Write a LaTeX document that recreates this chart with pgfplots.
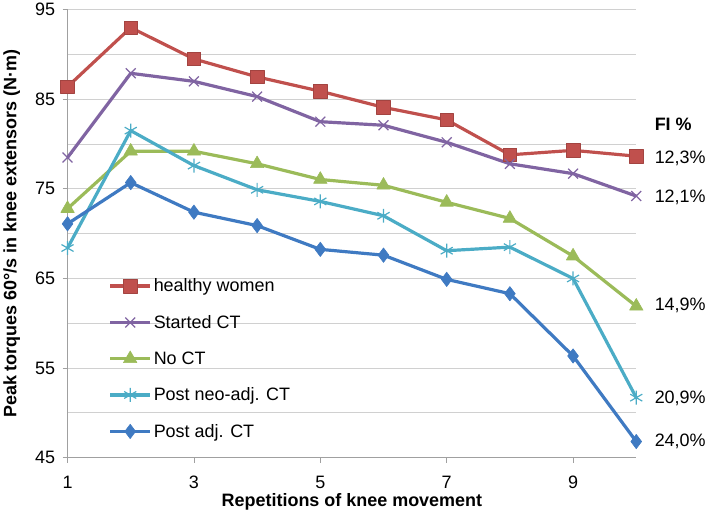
\documentclass[border=0pt]{standalone}
\usepackage{pgfplots}
\pgfplotsset{compat=1.18}
\usepackage{fontspec}
\setmainfont{Liberation Sans}
\definecolor{cred}{HTML}{C0504D}
\definecolor{cpur}{HTML}{8064A2}
\definecolor{cgrn}{HTML}{9BBB59}
\definecolor{ccyn}{HTML}{4BACC6}
\definecolor{cblu}{HTML}{3F7AC2}
\definecolor{gridc}{HTML}{D0D0D0}
\definecolor{axc}{HTML}{A0A0A0}
\begin{document}
\begin{tikzpicture}[x=1pt,y=1pt]
\begin{axis}[
  scale only axis,
  width=570pt, height=449pt,
  xmin=1, xmax=10, ymin=45, ymax=95,
  xtick={1,3,5,7,9},
  ytick={45,55,65,75,85,95},
  minor ytick={50,60,70,80,90},
  ymajorgrids, yminorgrids,
  major grid style={gridc, line width=0.8pt},
  minor grid style={gridc, line width=0.8pt},
  axis x line*=bottom, axis y line*=left,
  axis line style={axc, line width=0.8pt},
  major tick style={axc, line width=0.8pt},
  minor tick style={draw=none},
  tick align=outside, major tick length=5pt,
  tick label style={font=\fontsize{18}{21}\selectfont, black},
  xticklabel style={yshift=-10pt},
  yticklabel style={xshift=-4pt},
  /pgf/number format/assume math mode=true,
  xlabel={\bfseries Repetitions of knee movement},
  ylabel={\bfseries Peak torques 60°/s in knee extensors (N·m)},
  label style={font=\fontsize{18}{21}\selectfont},
  xlabel style={at={(axis description cs:0.5,-0.098)}, anchor=center},
  ylabel style={at={(axis description cs:-0.0982,0.5)}, anchor=center},
  clip=false,
  legend style={at={(axis cs:1.60,65.43)}, anchor=north west, draw=none, fill=none,
    font=\fontsize{18}{21}\selectfont, row sep=18pt,
    legend cell align=left},
  legend image code/.code={\draw[#1] (0pt,0pt) -- (40pt,0pt); \draw[#1, mark repeat=2, mark phase=2] plot coordinates {(0pt,0pt) (20pt,0pt) (40pt,0pt)};},
  every axis plot/.append style={line width=3.2pt, line join=round},
]
\addplot[cred, mark=square*, mark size=6.8pt, mark options={line width=0.6pt, fill=cred, draw=cred!85!black}]
 coordinates {(1,86.4) (2,93.0) (3,89.5) (4,87.5) (5,85.9) (6,84.1) (7,82.7) (8,78.8) (9,79.3) (10,78.65)};
\addlegendentry{healthy women}
\addplot[cpur, mark=x, mark size=7pt, mark options={line width=1.2pt}]
 coordinates {(1,78.5) (2,87.9) (3,87.0) (4,85.3) (5,82.5) (6,82.1) (7,80.2) (8,77.8) (9,76.7) (10,74.2)};
\addlegendentry{Started CT}
\addplot[cgrn, mark=triangle*, mark size=7.8pt, mark options={line width=0.6pt}]
 coordinates {(1,72.8) (2,79.2) (3,79.2) (4,77.8) (5,76.05) (6,75.4) (7,73.5) (8,71.7) (9,67.5) (10,61.9)};
\addlegendentry{No CT}
\addplot[ccyn, mark=asterisk, mark size=7pt, mark options={line width=1.2pt}]
 coordinates {(1,68.4) (2,81.5) (3,77.6) (4,74.9) (5,73.6) (6,72.0) (7,68.1) (8,68.5) (9,65.0) (10,51.7)};
\addlegendentry{Post neo-adj. CT}
\addplot[cblu, mark=diamond*, mark size=7.2pt, mark options={line width=0.6pt}]
 coordinates {(1,71.1) (2,75.7) (3,72.4) (4,70.9) (5,68.25) (6,67.6) (7,64.9) (8,63.3) (9,56.35) (10,46.8)};
\addlegendentry{Post adj. CT}
\node[anchor=west, font=\fontsize{18}{21}\selectfont\bfseries] at (axis cs:10,82.2) [xshift=15pt] {FI \%};
\node[anchor=west, font=\fontsize{18}{21}\selectfont] at (axis cs:10,78.4) [xshift=15pt] {12,3\%};
\node[anchor=west, font=\fontsize{18}{21}\selectfont] at (axis cs:10,74.1) [xshift=15pt] {12,1\%};
\node[anchor=west, font=\fontsize{18}{21}\selectfont] at (axis cs:10,62.0) [xshift=15pt] {14,9\%};
\node[anchor=west, font=\fontsize{18}{21}\selectfont] at (axis cs:10,51.6) [xshift=15pt] {20,9\%};
\node[anchor=west, font=\fontsize{18}{21}\selectfont] at (axis cs:10,46.8) [xshift=15pt] {24,0\%};
\end{axis}
\path[use as bounding box] (current axis.south west) ++(-67pt,-57pt) rectangle ++(709pt,514pt);
\end{tikzpicture}
\end{document}
